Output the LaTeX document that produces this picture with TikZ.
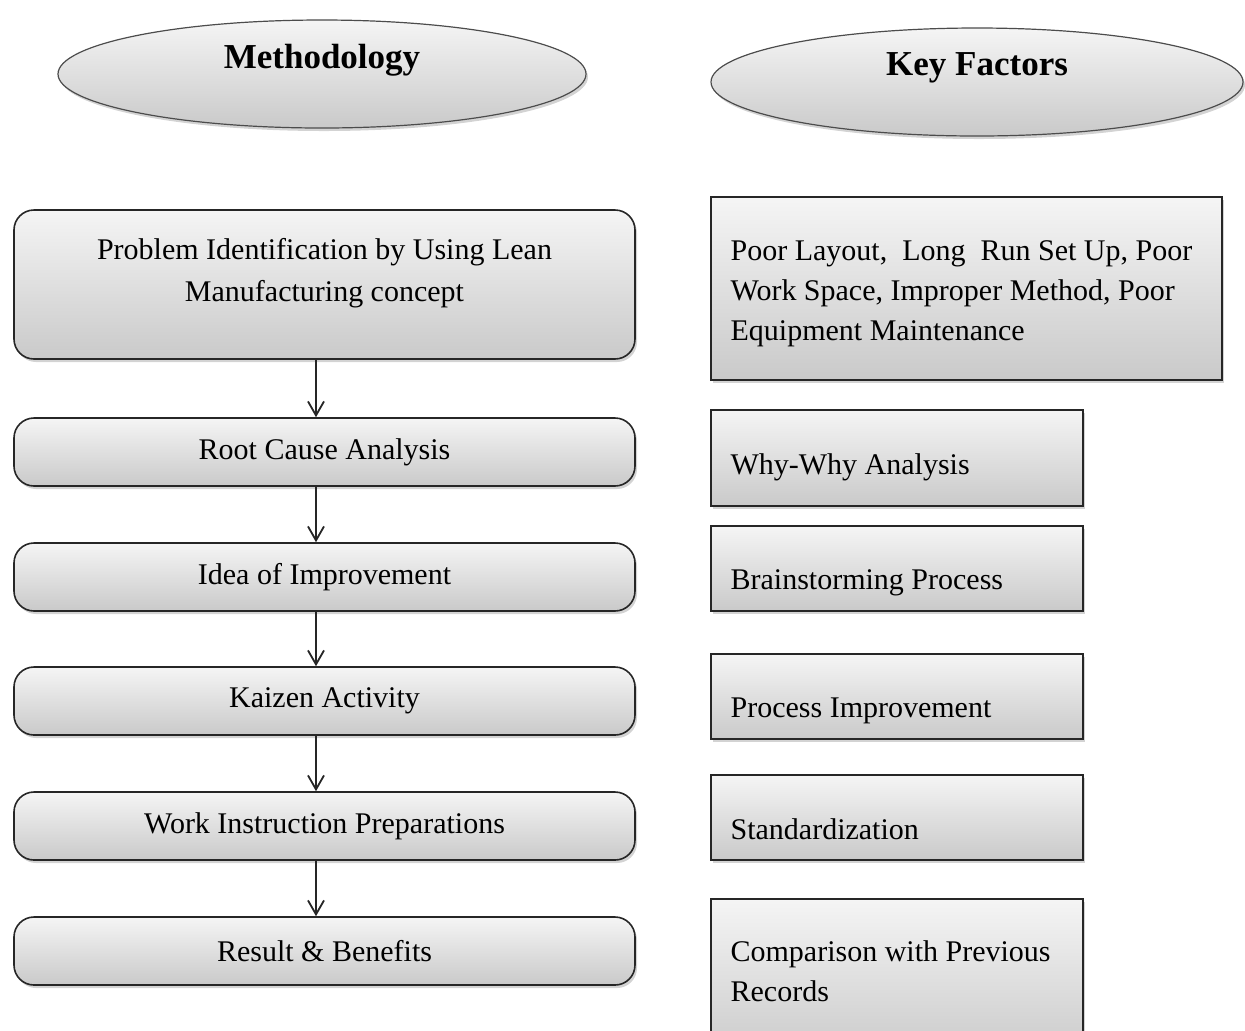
\documentclass[tikz,border=0pt]{standalone}
\usepackage{fontspec}
\setmainfont{Liberation Serif}
\usetikzlibrary{positioning, shapes.geometric, arrows.meta, shadows, calc}

\tikzset{
    shade/.style={top color=gray!8, bottom color=gray!42,
        drop shadow={opacity=0.35, shadow xshift=1pt, shadow yshift=-1.5pt}},
    head/.style={ellipse, draw=black!70, line width=0.6pt, shade,
        minimum width=264pt, minimum height=54pt, inner sep=0pt},
    headtext/.style={font=\fontsize{17.5}{20}\selectfont\bfseries, inner sep=0pt},
    stage/.style={rectangle, rounded corners=10pt, draw=black!85, line width=0.8pt, shade,
        minimum width=310.5pt, minimum height=34pt, inner sep=0pt,
        font=\fontsize{15}{21}\selectfont},
    factor/.style={rectangle, draw=black!85, line width=0.8pt, shade, inner sep=0pt},
    factortext/.style={anchor=north west, align=left, inner sep=0pt,
        font=\fontsize{15}{20}\selectfont},
    flow/.style={-{Straight Barb[length=7pt,width=8pt]}, line width=0.9pt, black!85}
}

\begin{document}
\begin{tikzpicture}[x=0.5pt, y=-0.5pt]
    \useasboundingbox (0,0) rectangle (1245,1030);
    \clip (0,0) rectangle (1245,1030);

    % Headings
    \node[head] (meth) at (322,74) {};
    \node[headtext] (methtext) at ([yshift=7pt]meth.center) {Methodology};
    \node[head, minimum width=266pt] (keyf) at (977,82) {};
    \node[headtext] (keyftext) at ([yshift=7pt]keyf.center) {Key Factors};

    % Methodology steps
    \node[stage, minimum height=74.5pt] (probl) at (324.5,284.5) {};
    \node[align=center, anchor=north, inner sep=0pt, font=\fontsize{15}{21}\selectfont]
        (probltext) at ([yshift=-14.5pt]probl.north)
        {Problem Identification by Using Lean\\Manufacturing concept};
    \node[stage] (rootc) at (324.5,452) {Root Cause Analysis};
    \node[stage] (idea) at (324.5,577) {Idea of Improvement};
    \node[stage] (kaizen) at (324.5,701) {Kaizen Activity};
    \node[stage] (winst) at (324.5,826) {Work Instruction Preparations};
    \node[stage] (result) at (324.5,951) {Result \& Benefits};

    % Arrows between steps
    \draw[flow] ([xshift=-4.25pt]probl.south) -- ([xshift=-4.25pt]rootc.north);
    \draw[flow] ([xshift=-4.25pt]rootc.south) -- ([xshift=-4.25pt]idea.north);
    \draw[flow] ([xshift=-4.25pt]idea.south) -- ([xshift=-4.25pt]kaizen.north);
    \draw[flow] ([xshift=-4.25pt]kaizen.south) -- ([xshift=-4.25pt]winst.north);
    \draw[flow] ([xshift=-4.25pt]winst.south) -- ([xshift=-4.25pt]result.north);

    % Key factors
    \node[factor, minimum width=255.5pt, minimum height=91.5pt] (kfpoor) at (966.5,288.5) {};
    \node[factor, minimum width=186pt, minimum height=48pt] (kfwhy) at (897,458) {};
    \node[factor, minimum width=186pt, minimum height=42.5pt] (kfbrain) at (897,568.5) {};
    \node[factor, minimum width=186pt, minimum height=42.5pt] (kfproc) at (897,696.5) {};
    \node[factor, minimum width=186pt, minimum height=42.5pt] (kfstd) at (897,817.5) {};
    \node[factor, minimum width=186pt, minimum height=80.5pt] (kfcomp) at (897,979.5) {};

    \node[factortext] (kfpoortext) at ([xshift=10pt, yshift=-22pt]kfpoor.north west)
        {Poor Layout,~ Long~ Run Set Up, Poor\\Work Space, Improper Method, Poor\\Equipment Maintenance};
    \node[factortext] (kfwhytext) at ([xshift=10pt, yshift=-22pt]kfwhy.north west) {Why-Why Analysis};
    \node[factortext] (kfbraintext) at ([xshift=10pt, yshift=-22pt]kfbrain.north west) {Brainstorming Process};
    \node[factortext] (kfproctext) at ([xshift=10pt, yshift=-22pt]kfproc.north west) {Process Improvement};
    \node[factortext] (kfstdtext) at ([xshift=10pt, yshift=-22pt]kfstd.north west) {Standardization};
    \node[factortext] (kfcomptext) at ([xshift=10pt, yshift=-21pt]kfcomp.north west)
        {Comparison with Previous\\Records};

\end{tikzpicture}
\end{document}
